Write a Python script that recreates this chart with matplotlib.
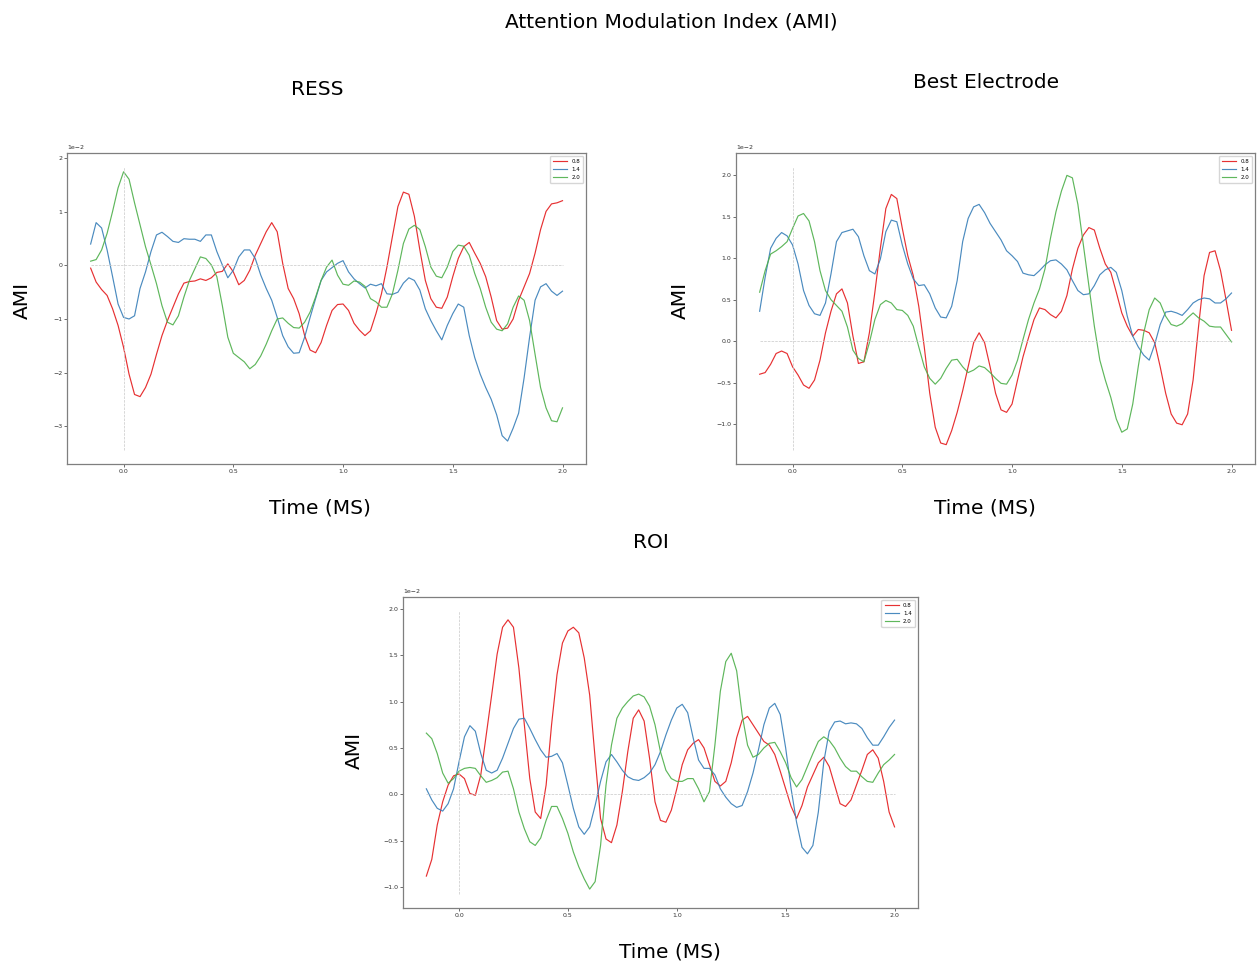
import matplotlib
matplotlib.use("Agg")
import matplotlib.pyplot as plt
import numpy as np

# time axis (s), shared by all panels
time = np.round(np.arange(-0.15, 2.0001, 0.025), 3)

labels = ["0.8", "1.4", "2.0"]
colors = ["#e41a1c", "#377eb8", "#4daf4a"]
SCALE = 1e-2  # values below are read in units of 1e-2

# ---- RESS ----
ress_08 = [-0.05, -0.31, -0.45, -0.56, -0.81, -1.12, -1.53, -2.03, -2.41, -2.45,
           -2.28, -2.03, -1.66, -1.31, -1.03, -0.78, -0.53, -0.33, -0.30, -0.29,
           -0.25, -0.28, -0.23, -0.13, -0.11, 0.03, -0.12, -0.36, -0.28, -0.09,
           0.19, 0.41, 0.63, 0.80, 0.63, 0.04, -0.43, -0.62, -0.90, -1.31,
           -1.58, -1.63, -1.44, -1.12, -0.84, -0.73, -0.72, -0.84, -1.08, -1.21,
           -1.31, -1.22, -0.90, -0.53, -0.03, 0.54, 1.10, 1.37, 1.33, 0.92,
           0.29, -0.28, -0.62, -0.78, -0.80, -0.59, -0.21, 0.13, 0.35, 0.43,
           0.23, 0.04, -0.21, -0.59, -1.03, -1.19, -1.17, -1.00, -0.65, -0.40,
           -0.15, 0.23, 0.67, 1.01, 1.15, 1.17, 1.21]
ress_14 = [0.40, 0.80, 0.70, 0.29, -0.21, -0.72, -0.97, -1.00, -0.94, -0.43,
           -0.12, 0.26, 0.57, 0.62, 0.54, 0.45, 0.43, 0.50, 0.49, 0.49,
           0.45, 0.57, 0.57, 0.26, 0.01, -0.23, -0.09, 0.16, 0.29, 0.29,
           0.13, -0.18, -0.43, -0.65, -0.97, -1.31, -1.52, -1.64, -1.63, -1.34,
           -0.97, -0.62, -0.28, -0.12, -0.04, 0.04, 0.09, -0.12, -0.25, -0.34,
           -0.42, -0.35, -0.38, -0.34, -0.53, -0.54, -0.50, -0.33, -0.23, -0.28,
           -0.46, -0.81, -1.03, -1.22, -1.39, -1.12, -0.90, -0.72, -0.78, -1.31,
           -1.72, -2.03, -2.28, -2.50, -2.79, -3.18, -3.28, -3.04, -2.76, -2.10,
           -1.34, -0.65, -0.40, -0.34, -0.48, -0.56, -0.48]
ress_20 = [0.08, 0.11, 0.29, 0.60, 1.01, 1.45, 1.75, 1.61, 1.17, 0.76,
           0.35, 0.01, -0.34, -0.75, -1.06, -1.11, -0.94, -0.59, -0.28, -0.06,
           0.16, 0.13, 0.01, -0.21, -0.75, -1.34, -1.64, -1.72, -1.80, -1.93,
           -1.85, -1.69, -1.47, -1.22, -1.00, -0.98, -1.08, -1.16, -1.17, -1.06,
           -0.87, -0.59, -0.28, -0.03, 0.10, -0.18, -0.35, -0.37, -0.29, -0.31,
           -0.39, -0.62, -0.68, -0.78, -0.78, -0.53, -0.09, 0.41, 0.68, 0.75,
           0.67, 0.35, -0.03, -0.20, -0.23, -0.03, 0.26, 0.38, 0.36, 0.19,
           -0.15, -0.43, -0.78, -1.06, -1.19, -1.22, -1.09, -0.78, -0.57, -0.65,
           -1.03, -1.66, -2.28, -2.66, -2.90, -2.92, -2.66]

# ---- Best Electrode ----
best_08 = [-0.40, -0.38, -0.28, -0.15, -0.12, -0.15, -0.31, -0.41, -0.53, -0.57,
           -0.47, -0.23, 0.10, 0.36, 0.57, 0.63, 0.46, 0.06, -0.27, -0.25,
           0.10, 0.59, 1.12, 1.60, 1.77, 1.72, 1.36, 1.03, 0.79, 0.42,
           -0.07, -0.63, -1.04, -1.23, -1.25, -1.08, -0.86, -0.60, -0.31, -0.02,
           0.10, -0.02, -0.31, -0.63, -0.83, -0.86, -0.76, -0.47, -0.19, 0.04,
           0.26, 0.40, 0.38, 0.32, 0.28, 0.36, 0.55, 0.87, 1.12, 1.28,
           1.37, 1.34, 1.12, 0.93, 0.83, 0.59, 0.34, 0.18, 0.06, 0.14,
           0.13, 0.10, -0.02, -0.31, -0.63, -0.88, -0.99, -1.01, -0.88, -0.47,
           0.18, 0.79, 1.07, 1.09, 0.85, 0.50, 0.13]
best_14 = [0.36, 0.77, 1.12, 1.24, 1.31, 1.27, 1.16, 0.93, 0.61, 0.43,
           0.33, 0.31, 0.46, 0.81, 1.20, 1.31, 1.33, 1.35, 1.26, 1.03,
           0.85, 0.81, 0.99, 1.32, 1.46, 1.44, 1.16, 0.93, 0.75, 0.67,
           0.68, 0.57, 0.40, 0.29, 0.28, 0.42, 0.73, 1.20, 1.48, 1.62,
           1.65, 1.55, 1.42, 1.32, 1.22, 1.09, 1.03, 0.96, 0.82, 0.80,
           0.79, 0.85, 0.92, 0.97, 0.98, 0.93, 0.86, 0.73, 0.61, 0.56,
           0.57, 0.67, 0.80, 0.86, 0.89, 0.83, 0.61, 0.30, 0.06, -0.07,
           -0.17, -0.23, -0.04, 0.20, 0.35, 0.36, 0.34, 0.31, 0.38, 0.46,
           0.50, 0.52, 0.51, 0.46, 0.46, 0.51, 0.58]
best_20 = [0.59, 0.85, 1.05, 1.09, 1.14, 1.20, 1.36, 1.51, 1.54, 1.45,
           1.20, 0.85, 0.61, 0.50, 0.43, 0.36, 0.17, -0.11, -0.21, -0.25,
           -0.02, 0.26, 0.44, 0.49, 0.46, 0.38, 0.37, 0.31, 0.18, -0.07,
           -0.31, -0.45, -0.52, -0.45, -0.33, -0.23, -0.22, -0.31, -0.38, -0.35,
           -0.30, -0.32, -0.38, -0.45, -0.51, -0.52, -0.41, -0.23, 0.02, 0.26,
           0.46, 0.63, 0.87, 1.24, 1.56, 1.81, 2.00, 1.97, 1.65, 1.16,
           0.67, 0.18, -0.23, -0.47, -0.68, -0.94, -1.10, -1.06, -0.76, -0.31,
           0.10, 0.38, 0.52, 0.46, 0.30, 0.20, 0.18, 0.21, 0.28, 0.34,
           0.28, 0.24, 0.18, 0.17, 0.17, 0.08, -0.01]

# ---- ROI ----
roi_08 = [-0.88, -0.70, -0.33, -0.08, 0.10, 0.20, 0.22, 0.17, 0.01, -0.01,
          0.21, 0.64, 1.07, 1.51, 1.80, 1.88, 1.80, 1.36, 0.75, 0.17,
          -0.19, -0.26, 0.10, 0.75, 1.29, 1.63, 1.76, 1.80, 1.74, 1.47,
          1.07, 0.39, -0.26, -0.48, -0.52, -0.33, 0.03, 0.46, 0.82, 0.91,
          0.79, 0.39, -0.08, -0.28, -0.30, -0.17, 0.06, 0.32, 0.48, 0.55,
          0.59, 0.50, 0.32, 0.14, 0.09, 0.14, 0.34, 0.61, 0.80, 0.84,
          0.75, 0.66, 0.57, 0.53, 0.43, 0.25, 0.06, -0.13, -0.26, -0.12,
          0.08, 0.21, 0.34, 0.40, 0.30, 0.10, -0.10, -0.13, -0.06, 0.10,
          0.26, 0.43, 0.48, 0.39, 0.14, -0.19, -0.35]
roi_14 = [0.06, -0.06, -0.15, -0.18, -0.10, 0.06, 0.35, 0.62, 0.74, 0.68,
          0.44, 0.26, 0.23, 0.26, 0.39, 0.55, 0.71, 0.81, 0.82, 0.71,
          0.59, 0.48, 0.40, 0.41, 0.44, 0.34, 0.10, -0.15, -0.35, -0.43,
          -0.35, -0.12, 0.14, 0.35, 0.43, 0.35, 0.26, 0.19, 0.16, 0.15,
          0.18, 0.23, 0.32, 0.46, 0.64, 0.80, 0.93, 0.97, 0.88, 0.61,
          0.37, 0.28, 0.28, 0.21, 0.06, -0.03, -0.10, -0.14, -0.12, 0.03,
          0.23, 0.48, 0.75, 0.93, 0.98, 0.86, 0.50, 0.06, -0.30, -0.57,
          -0.64, -0.55, -0.19, 0.35, 0.68, 0.78, 0.79, 0.76, 0.77, 0.76,
          0.71, 0.61, 0.53, 0.53, 0.62, 0.72, 0.80]
roi_20 = [0.66, 0.60, 0.44, 0.23, 0.12, 0.17, 0.25, 0.28, 0.29, 0.28,
          0.20, 0.13, 0.15, 0.18, 0.24, 0.25, 0.06, -0.19, -0.37, -0.51,
          -0.55, -0.47, -0.28, -0.13, -0.13, -0.26, -0.42, -0.62, -0.78, -0.91,
          -1.02, -0.94, -0.55, 0.10, 0.53, 0.82, 0.93, 1.00, 1.06, 1.08,
          1.05, 0.95, 0.75, 0.46, 0.26, 0.17, 0.14, 0.14, 0.17, 0.17,
          0.06, -0.08, 0.03, 0.53, 1.11, 1.43, 1.52, 1.33, 0.86, 0.53,
          0.40, 0.43, 0.50, 0.55, 0.56, 0.46, 0.34, 0.18, 0.08, 0.16,
          0.30, 0.44, 0.57, 0.62, 0.58, 0.50, 0.39, 0.30, 0.25, 0.25,
          0.19, 0.14, 0.13, 0.23, 0.32, 0.37, 0.43]

panels = [
    # (series, axes rect, title, title pos, ylabel pos, xlabel pos)
    ([ress_08, ress_14, ress_20], [0.0533, 0.5192, 0.4126, 0.3223], "RESS",
     (0.252, 0.907), (0.0175, 0.689), (0.2544, 0.4736)),
    ([best_08, best_14, best_20], [0.5851, 0.5192, 0.4126, 0.3223], "Best Electrode",
     (0.784, 0.915), (0.5405, 0.689), (0.783, 0.4736)),
    ([roi_08, roi_14, roi_20], [0.3203, 0.0591, 0.4094, 0.3223], "ROI",
     (0.5175, 0.4383), (0.282, 0.2228), (0.5326, 0.0135)),
]

fig = plt.figure(figsize=(12.58, 9.65), dpi=100)
fig.text(0.534, 0.977, "Attention Modulation Index (AMI)",
         ha="center", va="center", fontsize=14.5)

for series, rect, title, tpos, ypos, xpos in panels:
    ax = fig.add_axes(rect)
    vals = []
    for s, lab, c in zip(series, labels, colors):
        y = np.array(s) * SCALE
        vals.append(y)
        ax.plot(time, y, color=c, lw=0.85, alpha=0.9, label=lab)
    allv = np.concatenate(vals)
    # guide lines at t=0 and AMI=0
    ax.hlines(0, time[0], time[-1], colors="#c8c8c8", linestyles="--", lw=0.5)
    ax.vlines(0, 1.05 * allv.min(), 1.05 * allv.max(),
              colors="#c8c8c8", linestyles="--", lw=0.5)
    ax.ticklabel_format(axis="y", style="sci", scilimits=(0, 0))
    ax.yaxis.get_offset_text().set_fontsize(4.5)
    ax.tick_params(labelsize=4.5, length=2, width=0.5, pad=1.5, colors="#333333")
    for sp in ax.spines.values():
        sp.set_color("#7f7f7f")
        sp.set_linewidth(0.9)
    ax.legend(loc="upper right", fontsize=4, handlelength=2.5, borderpad=0.6)

    fig.text(tpos[0], tpos[1], title, ha="center", va="center", fontsize=14.5)
    fig.text(ypos[0], ypos[1], "AMI", ha="center", va="center",
             rotation=90, fontsize=14.5)
    fig.text(xpos[0], xpos[1], "Time (MS)", ha="center", va="center", fontsize=14.5)

fig.savefig("out.png", dpi=100, facecolor="white")
